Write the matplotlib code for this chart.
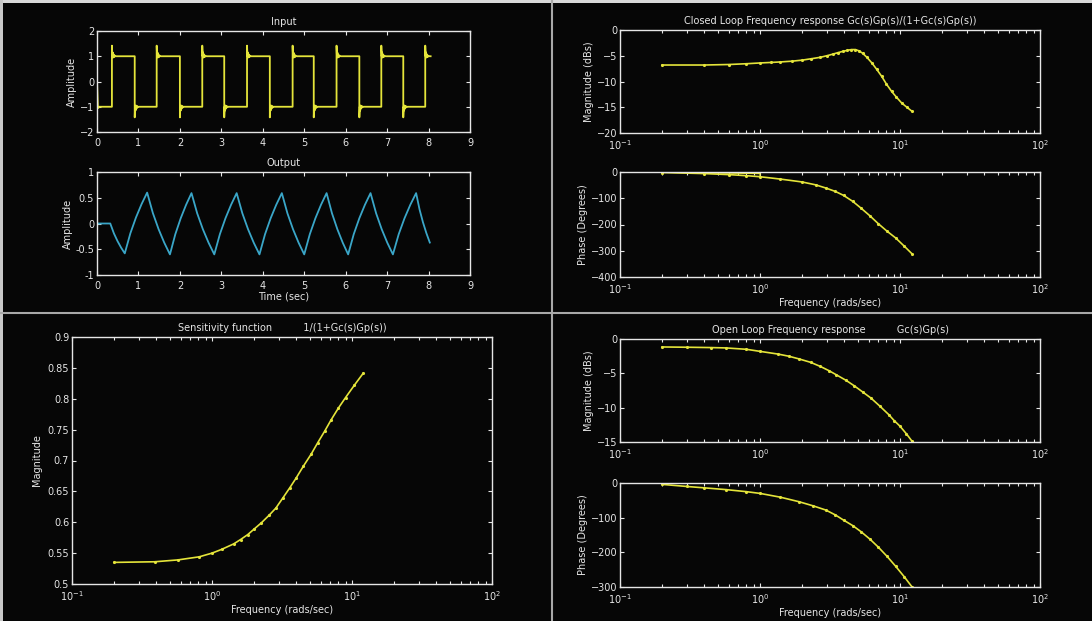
import numpy as np
import matplotlib.pyplot as plt
from matplotlib.lines import Line2D
from matplotlib.patches import Rectangle

# ---- time domain data ----
rise_t = [0.36, 1.44, 2.54, 3.62, 4.72, 5.78, 6.86, 7.92]
fall_t = [0.91, 2.00, 3.07, 4.17, 5.23, 6.33, 7.39]
# overshoot / ringing right after each edge (time after edge, level)
spike_dt = [0.0, 0.01, 0.02, 0.03, 0.045, 0.06, 0.08, 0.10]
spike_v = [1.42, 1.00, 1.15, 0.95, 1.07, 0.97, 1.02, 1.00]
input_end = 8.05

out_peak_t = [1.21, 2.28, 3.37, 4.46, 5.54, 6.60, 7.70]
out_peak_v = [0.60, 0.59, 0.59, 0.59, 0.59, 0.59, 0.59]
out_trough_t = [0.67, 1.76, 2.83, 3.92, 5.00, 6.06, 7.14]
out_trough_v = [-0.58, -0.60, -0.60, -0.60, -0.60, -0.60, -0.60]
out_delay = 0.32
out_end = (8.03, -0.37)
seg_frac = [0.0, 0.25, 0.5, 0.75, 1.0]
seg_shape = [0.0, 0.33, 0.59, 0.81, 1.0]

# ---- frequency domain data ----
w_cl_mag = [0.2, 0.4, 0.6, 0.8, 1.0, 1.2, 1.4, 1.7, 2.0, 2.3, 2.7, 3.0, 3.3, 3.6, 3.9,
            4.2, 4.5, 4.8, 5.1, 5.4, 5.8, 6.3, 6.8, 7.4, 8.0, 8.7, 9.4, 10.3, 11.2, 12.2]
cl_mag = [-6.8, -6.8, -6.7, -6.55, -6.4, -6.3, -6.2, -6.05, -5.85, -5.6, -5.3, -5.0, -4.7, -4.4, -4.15,
          -3.95, -3.8, -3.8, -4.05, -4.5, -5.3, -6.4, -7.6, -9.0, -10.5, -11.9, -13.0, -14.2, -15.0, -15.8]

w_cl_ph = [0.2, 0.4, 0.6, 0.8, 1.0, 1.4, 2.0, 2.5, 2.95, 3.45, 3.95, 4.6, 5.25, 6.1, 7.0, 8.1, 9.3, 10.7, 12.2]
cl_ph = [-2, -6, -10, -14, -18, -27, -38, -49, -61, -74, -89, -112, -137, -167, -197, -226, -251, -282, -312]
w_cl_ph_extra = [0.2, 1.0, 1.0]
cl_ph_extra = [-1, -6, -19]

w_sens = [0.2, 0.39, 0.57, 0.81, 1.0, 1.17, 1.43, 1.6, 1.8, 2.0, 2.25, 2.55, 2.86, 3.2, 3.6,
          4.0, 4.5, 5.1, 5.7, 6.4, 7.1, 8.0, 9.0, 10.4, 12.0]
sens = [0.535, 0.536, 0.539, 0.544, 0.550, 0.556, 0.565, 0.572, 0.580, 0.589, 0.599, 0.611, 0.623, 0.639, 0.656,
        0.672, 0.691, 0.710, 0.729, 0.748, 0.766, 0.785, 0.802, 0.822, 0.841]

w_ol_mag = [0.2, 0.3, 0.45, 0.57, 0.8, 1.0, 1.35, 1.6, 1.9, 2.3, 2.7, 3.1, 3.5, 4.1, 4.7,
            5.4, 6.2, 7.2, 8.3, 9.1, 10.0, 11.1, 12.2]
ol_mag = [-1.16, -1.2, -1.25, -1.3, -1.5, -1.8, -2.2, -2.5, -2.9, -3.4, -4.0, -4.6, -5.2, -6.0, -6.8,
          -7.7, -8.6, -9.8, -11.0, -11.9, -12.7, -13.8, -14.9]

w_ol_ph = [0.2, 0.3, 0.4, 0.57, 0.8, 1.0, 1.4, 1.9, 2.4, 2.95, 3.45, 3.95, 4.6, 5.25, 6.1, 7.0, 8.1, 9.3, 10.7, 12.2]
ol_ph = [-4, -10, -14, -19, -25, -30, -41, -54, -66, -78, -92, -107, -123, -140, -162, -185, -212, -240, -270, -300]

BG = '#060606'
FG = '#e6e6e6'
YEL = '#e4e43a'
CYAN = '#3aa6c8'
W, H = 1092, 621
FS = 7


def build_input():
    t = [0.0, 0.02, 0.03, 0.05]
    v = [0.0, -0.95, -1.05, -1.0]
    edges = sorted([(x, 1) for x in rise_t] + [(x, -1) for x in fall_t])
    for et, sign in edges:
        t.append(et)
        v.append(-sign * 1.0)
        for dt, sv in zip(spike_dt, spike_v):
            if et + dt <= input_end:
                t.append(et + dt)
                v.append(sign * sv)
    t.append(input_end)
    v.append(1.0)
    return t, v


def build_output():
    knots = [(0.0, 0.0), (out_delay, 0.0)]
    ext = sorted(list(zip(out_peak_t, out_peak_v)) + list(zip(out_trough_t, out_trough_v)))
    knots += ext + [out_end]
    t, v = [0.0], [0.0]
    for (t0, v0), (t1, v1) in zip(knots[:-1], knots[1:]):
        if v0 == v1:
            t.append(t1)
            v.append(v1)
            continue
        for f, s in zip(seg_frac[1:], seg_shape[1:]):
            t.append(t0 + (t1 - t0) * f)
            v.append(v0 + (v1 - v0) * s)
    return t, v


def make_axes(fig, x0, y0, x1, y1):
    ax = fig.add_axes([x0 / W, 1 - y1 / H, (x1 - x0) / W, (y1 - y0) / H])
    ax.set_facecolor(BG)
    for s in ax.spines.values():
        s.set_color(FG)
        s.set_linewidth(1.0)
    ax.tick_params(which='both', direction='in', colors=FG, labelsize=FS,
                   top=True, right=True, length=3, width=0.8, pad=2)
    ax.tick_params(axis='x', which='major', pad=4)
    ax.tick_params(which='minor', length=2)
    return ax


def log_axes(ax):
    ax.set_xscale('log')
    ax.set_xlim(0.1, 100)


def main():
    fig = plt.figure(figsize=(W / 100, H / 100), dpi=100)
    fig.patch.set_facecolor(BG)

    # panel borders
    fig.add_artist(Line2D([552 / W, 552 / W], [0, 1], color='#a8a8a8', lw=1.5))
    fig.add_artist(Line2D([0, 1], [1 - 313 / H, 1 - 313 / H], color='#a8a8a8', lw=1.5))
    fig.add_artist(Rectangle((0, 1 - 3 / H), 1, 3 / H, color='#d8d8d8', lw=0))
    fig.add_artist(Rectangle((0, 0), 3 / W, 1, color='#c8c8c8', lw=0))

    # Input
    ax = make_axes(fig, 97, 31, 470, 132)
    ti, vi = build_input()
    ax.plot(ti, vi, color=YEL, lw=1.3)
    ax.set_xlim(0, 9)
    ax.set_ylim(-2, 2)
    ax.set_xticks(range(10))
    ax.set_yticks([-2, -1, 0, 1, 2])
    ax.set_title('Input', color=FG, fontsize=FS, pad=4)
    ax.set_ylabel('Amplitude', color=FG, fontsize=FS, labelpad=2)

    # Output
    ax = make_axes(fig, 97, 172, 470, 275)
    to, vo = build_output()
    ax.plot(to, vo, color=CYAN, lw=1.3)
    ax.set_xlim(0, 9)
    ax.set_ylim(-1, 1)
    ax.set_xticks(range(10))
    ax.set_yticks([-1, -0.5, 0, 0.5, 1])
    ax.set_yticklabels(['-1', '-0.5', '0', '0.5', '1'])
    ax.set_title('Output', color=FG, fontsize=FS, pad=4)
    ax.set_ylabel('Amplitude', color=FG, fontsize=FS, labelpad=2)
    ax.set_xlabel('Time (sec)', color=FG, fontsize=FS, labelpad=1)

    # Closed loop magnitude
    ax = make_axes(fig, 620, 30, 1040, 133)
    log_axes(ax)
    ax.plot(w_cl_mag, cl_mag, color=YEL, lw=1.2, marker='.', ms=2.5)
    ax.set_ylim(-20, 0)
    ax.set_yticks([-20, -15, -10, -5, 0])
    ax.set_title('Closed Loop Frequency response Gc(s)Gp(s)/(1+Gc(s)Gp(s))',
                 color=FG, fontsize=FS, pad=4)
    ax.set_ylabel('Magnitude (dBs)', color=FG, fontsize=FS, labelpad=2)

    # Closed loop phase
    ax = make_axes(fig, 620, 172, 1040, 277)
    log_axes(ax)
    ax.plot(w_cl_ph_extra, cl_ph_extra, color=YEL, lw=0.9)
    ax.plot(w_cl_ph, cl_ph, color=YEL, lw=1.2, marker='.', ms=2.5)
    ax.set_ylim(-400, 0)
    ax.set_yticks([-400, -300, -200, -100, 0])
    ax.set_ylabel('Phase (Degrees)', color=FG, fontsize=FS, labelpad=2)
    ax.set_xlabel('Frequency (rads/sec)', color=FG, fontsize=FS, labelpad=1)

    # Sensitivity
    ax = make_axes(fig, 72, 337, 492, 584)
    log_axes(ax)
    ax.plot(w_sens, sens, color=YEL, lw=1.2, marker='.', ms=2.5)
    ax.set_ylim(0.5, 0.9)
    yt = [0.5, 0.55, 0.6, 0.65, 0.7, 0.75, 0.8, 0.85, 0.9]
    ax.set_yticks(yt)
    ax.set_yticklabels([f'{y:g}' for y in yt])
    ax.set_title('Sensitivity function          1/(1+Gc(s)Gp(s))',
                 color=FG, fontsize=FS, pad=4)
    ax.set_ylabel('Magnitude', color=FG, fontsize=FS, labelpad=4)
    ax.set_xlabel('Frequency (rads/sec)', color=FG, fontsize=FS, labelpad=1)

    # Open loop magnitude
    ax = make_axes(fig, 620, 339, 1040, 442)
    log_axes(ax)
    ax.plot(w_ol_mag, ol_mag, color=YEL, lw=1.2, marker='.', ms=2.5)
    ax.set_ylim(-15, 0)
    ax.set_yticks([-15, -10, -5, 0])
    ax.set_title('Open Loop Frequency response          Gc(s)Gp(s)',
                 color=FG, fontsize=FS, pad=4)
    ax.set_ylabel('Magnitude (dBs)', color=FG, fontsize=FS, labelpad=2)

    # Open loop phase
    ax = make_axes(fig, 620, 483, 1040, 587)
    log_axes(ax)
    ax.plot(w_ol_ph, ol_ph, color=YEL, lw=1.2, marker='.', ms=2.5)
    ax.set_ylim(-300, 0)
    ax.set_yticks([-300, -200, -100, 0])
    ax.set_ylabel('Phase (Degrees)', color=FG, fontsize=FS, labelpad=2)
    ax.set_xlabel('Frequency (rads/sec)', color=FG, fontsize=FS, labelpad=1)

    fig.savefig('out.png', dpi=100, facecolor=BG)


if __name__ == '__main__':
    main()
